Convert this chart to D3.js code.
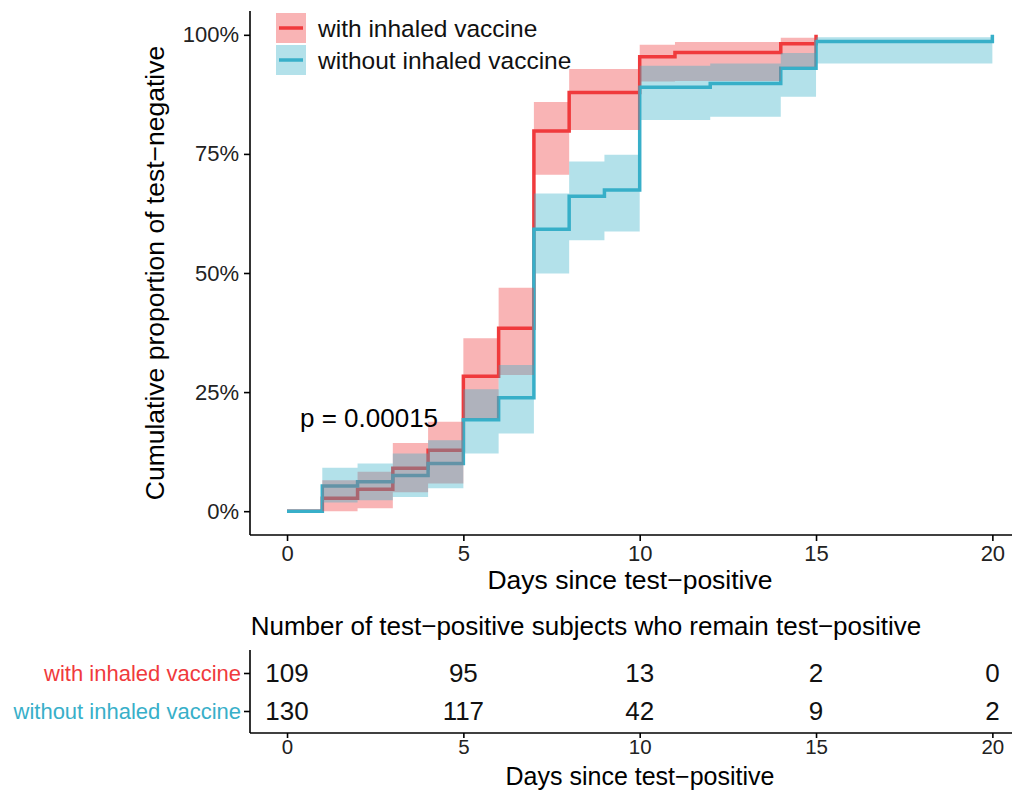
<!DOCTYPE html>
<meta charset="UTF-8">
<style>
body { margin: 0; background: #fff; }
svg text { font-family: "Liberation Sans", Arial, sans-serif; }
.axis path, .axis line { stroke: #000; stroke-width: 1.6px; }
</style>
<body>
<script src="https://d3js.org/d3.v7.min.js"></script>
<script>
// group names
var groups = ["with inhaled vaccine", "without inhaled vaccine"];

// with inhaled vaccine: step times, cumulative %, CI (one per interval)
var withTime  = [0, 1, 2, 3, 4, 5, 6, 7, 8, 10, 11, 14, 15];
var withEst   = [0, 2.7, 4.6, 9.0, 12.8, 28.3, 38.4, 79.8, 87.9, 95.4, 96.3, 98.1, 100];
var withLower = [0, 0, 0.6, 4.0, 5.8, 19.5, 28.6, 70.6, 80.0, 90.2, 90.3, 93.3];
var withUpper = [0, 6.5, 8.3, 14.3, 18.8, 36.3, 46.9, 85.9, 92.8, 97.9, 98.5, 99.4];

// without inhaled vaccine
var woTime  = [0, 1, 2, 3, 4, 5, 6, 7, 8, 9, 10, 12, 14, 15, 20];
var woEst   = [0, 5.3, 6.2, 7.5, 10.0, 19.2, 23.8, 59.2, 66.1, 67.4, 89.0, 89.8, 93.0, 98.6, 100];
var woLower = [0, 1.8, 2.3, 3.0, 4.8, 12.1, 16.3, 49.9, 56.9, 58.7, 82.1, 82.8, 87.0, 94.0];
var woUpper = [0, 9.1, 10.0, 12.1, 14.9, 25.6, 30.7, 66.7, 73.4, 74.8, 93.5, 94.0, 96.2, 99.5];

// number at risk table
var riskTimes = [0, 5, 10, 15, 20];
var withRisk = [109, 95, 13, 2, 0];
var woRisk   = [130, 117, 42, 9, 2];

var yTicks = [0, 25, 50, 75, 100];
var xTicks = [0, 5, 10, 15, 20];

var redCol = "#f03a3c", cyanCol = "#38afc9";
var bandOpacity = 0.38;

var svg = d3.select("body").append("svg")
    .attr("width", 1017)
    .attr("height", 791);

// scales
var x = d3.scaleLinear().domain([-1.05, 20.5]).range([250, 1010]);
var y = d3.scaleLinear().domain([-5, 105]).range([535, 11]);

// ****** main plot ******
var line = d3.line()
    .x(function(d) { return x(d[0]); })
    .y(function(d) { return y(d[1]); })
    .curve(d3.curveStepAfter);

var area = d3.area()
    .x(function(d) { return x(d[0]); })
    .y0(function(d) { return y(d[1]); })
    .y1(function(d) { return y(d[2]); })
    .curve(d3.curveStepAfter);

function linePts(t, e) {
  return t.map(function(v, i) { return [v, e[i]]; });
}
function bandPts(t, lo, up) {
  var pts = lo.map(function(v, i) { return [t[i], v, up[i]]; });
  var n = lo.length - 1;
  pts.push([t[n + 1], lo[n], up[n]]);
  return pts;
}

var plot = svg.append("g");

// lines first, then bands on top (as in the original)
plot.append("path")
    .attr("d", line(linePts(withTime, withEst)))
    .attr("fill", "none").attr("stroke", redCol).attr("stroke-width", 3.5);
plot.append("path")
    .attr("d", line(linePts(woTime, woEst)))
    .attr("fill", "none").attr("stroke", cyanCol).attr("stroke-width", 3.5);

plot.append("path")
    .attr("d", area(bandPts(withTime, withLower, withUpper)))
    .attr("fill", redCol).attr("fill-opacity", bandOpacity);
plot.append("path")
    .attr("d", area(bandPts(woTime, woLower, woUpper)))
    .attr("fill", cyanCol).attr("fill-opacity", bandOpacity);

// axes
var yAxis = svg.append("g")
    .attr("class", "axis")
    .attr("transform", "translate(250,0)")
    .call(d3.axisLeft(y).tickValues(yTicks).tickSize(6).tickPadding(5)
      .tickFormat(function(d) { return d + "%"; }));
yAxis.select(".domain").attr("d", "M0," + y(-5) + "V" + y(105));
yAxis.selectAll("text").attr("font-size", 22).style("fill", "#222");

var xAxis = svg.append("g")
    .attr("class", "axis")
    .attr("transform", "translate(0,535)")
    .call(d3.axisBottom(x).tickValues(xTicks).tickSize(6).tickPadding(4));
xAxis.select(".domain").attr("d", "M250,0H1012");
xAxis.selectAll("text").attr("font-size", 22).style("fill", "#222");

svg.append("text")
    .attr("x", 630).attr("y", 589)
    .attr("text-anchor", "middle")
    .attr("font-size", 26.5)
    .text("Days since test\u2212positive");

svg.append("text")
    .attr("transform", "translate(164,273) rotate(-90)")
    .attr("text-anchor", "middle")
    .attr("font-size", 26.5)
    .text("Cumulative proportion of test\u2212negative");

svg.append("text")
    .attr("x", 300).attr("y", 427)
    .attr("font-size", 26)
    .text("p = 0.00015");

// legend
var legend = svg.append("g").attr("transform", "translate(276,13)");
[redCol, cyanCol].forEach(function(c, i) {
  var g = legend.append("g").attr("transform", "translate(0," + (i * 32) + ")");
  g.append("rect").attr("width", 30).attr("height", 30)
    .attr("fill", c).attr("fill-opacity", bandOpacity);
  g.append("line").attr("x1", 3).attr("x2", 27).attr("y1", 15).attr("y2", 15)
    .attr("stroke", c).attr("stroke-width", 3.5);
  g.append("text").attr("x", 42).attr("y", 15).attr("dy", "0.35em")
    .attr("font-size", 24.5).style("fill", "#111")
    .text(groups[i]);
});

// ****** risk table ******
svg.append("text")
    .attr("x", 586).attr("y", 635)
    .attr("text-anchor", "middle")
    .attr("font-size", 26)
    .text("Number of test\u2212positive subjects who remain test\u2212positive");

var ty = d3.scalePoint().domain(groups).range([673, 711]);

var tAxisY = svg.append("g")
    .attr("class", "axis")
    .attr("transform", "translate(250,0)")
    .call(d3.axisLeft(ty).tickSize(6).tickPadding(3));
tAxisY.select(".domain").attr("d", "M0,650V733");
tAxisY.selectAll("text")
    .attr("font-size", 22)
    .style("fill", function(d, i) { return i === 0 ? redCol : cyanCol; });

var tAxisX = svg.append("g")
    .attr("class", "axis")
    .attr("transform", "translate(0,733)")
    .call(d3.axisBottom(x).tickValues(xTicks).tickSize(5).tickPadding(1));
tAxisX.select(".domain").attr("d", "M250,0H1012");
tAxisX.selectAll("text").attr("font-size", 20.5).style("fill", "#222");

[withRisk, woRisk].forEach(function(vals, r) {
  svg.append("g").selectAll("text")
    .data(vals)
    .join("text")
      .attr("x", function(d, i) { return x(riskTimes[i]); })
      .attr("y", ty(groups[r]))
      .attr("dy", "0.36em")
      .attr("text-anchor", "middle")
      .attr("font-size", 26)
      .style("fill", "#111")
      .text(function(d) { return d; });
});

svg.append("text")
    .attr("x", 640).attr("y", 785)
    .attr("text-anchor", "middle")
    .attr("font-size", 25)
    .text("Days since test\u2212positive");
</script>
</body>
